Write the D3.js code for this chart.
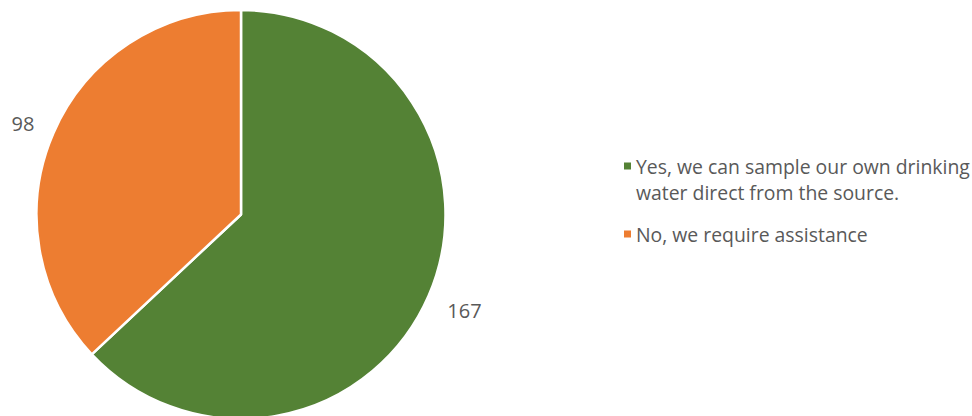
<!DOCTYPE html>
<html>
<head>
<meta charset="utf-8">
<script src="https://cdn.jsdelivr.net/npm/d3@7"></script>
<style>
  body { margin: 0; background: #fff; }
  svg { display: block; font-family: "Open Sans", "Noto Sans", sans-serif; }
</style>
</head>
<body>
<svg id="main-svg" width="972" height="416"></svg>
<script>
const categories = ["Yes, we can sample our own drinking water direct from the source.", "No, we require assistance"];
const legendLines = [["Yes, we can sample our own drinking", "water direct from the source."], ["No, we require assistance"]];
const values = [167, 98];
const colors = ["#548235", "#ED7D31"];

const CX = 241, CY = 214.5, R = 204.5;

var svg = d3.select("#main-svg");

var pie = d3.pie().sort(null).value(d => d);
var arcs = pie(values);
var arc = d3.arc().innerRadius(0).outerRadius(R);

var g = svg.append("g").attr("transform", `translate(${CX},${CY})`);

g.selectAll("path")
  .data(arcs)
  .enter()
  .append("path")
  .attr("d", arc)
  .attr("fill", (d, i) => colors[i])
  .attr("stroke", "#fff")
  .attr("stroke-width", 2.5)
  .attr("stroke-linejoin", "round");

// data labels, placed outside the slices (baseline coords relative to centre)
var labelPos = [[223.5, 103.5], [-218, -83.5]];
g.selectAll("text.lbl")
  .data(arcs)
  .enter()
  .append("text")
  .attr("class", "lbl")
  .attr("x", (d, i) => labelPos[i][0])
  .attr("y", (d, i) => labelPos[i][1])
  .attr("text-anchor", "middle")
  .attr("font-size", 20)
  .attr("fill", "#595959")
  .text(d => d.value);

// legend
var legend = svg.append("g").attr("transform", "translate(624,0)");
var rowY = [174, 242];
legendLines.forEach((lines, i) => {
  legend.append("rect")
    .attr("x", 0)
    .attr("y", rowY[i] - 11.5)
    .attr("width", 7)
    .attr("height", 7)
    .attr("fill", colors[i]);
  var t = legend.append("text")
    .attr("y", rowY[i])
    .attr("font-size", 19.4)
    .attr("fill", "#595959");
  lines.forEach((line, j) => {
    t.append("tspan")
      .attr("x", 12)
      .attr("dy", j === 0 ? 0 : 26)
      .text(line);
  });
});
</script>
</body>
</html>
